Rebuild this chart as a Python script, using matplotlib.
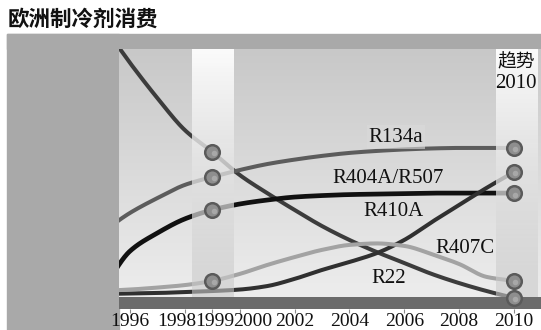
import numpy as np
import matplotlib
matplotlib.use("Agg")
import matplotlib.pyplot as plt
from matplotlib.patches import Rectangle
import matplotlib.transforms as mtransforms

# ---- data: consumption index (0 = floor of the chart, 100 = top) ----
years = [1995, 1996, 1997, 1998, 1999, 2000, 2001, 2002,
         2003, 2004, 2005, 2006, 2007, 2008, 2009, 2010]
r22 = [109.7, 94.4, 80.2, 67.3, 58.5, 49.2, 41.9, 35.1,
       28.6, 23.0, 18.1, 13.7, 9.3, 5.6, 2.4, -0.4]
r134a = [26.2, 33.9, 39.9, 45.2, 48.4, 51.2, 53.6, 55.4,
         56.9, 58.1, 58.9, 59.5, 59.9, 60.1, 60.1, 60.1]
r404a = [2.8, 18.5, 25.8, 31.5, 35.1, 37.5, 39.1, 40.3,
         40.9, 41.3, 41.5, 41.7, 41.9, 41.9, 41.9, 41.9]
r410a = [1.2, 1.4, 1.6, 2.0, 2.4, 3.0, 4.4, 7.3,
         10.9, 14.1, 17.7, 23.0, 30.2, 37.1, 44.0, 50.4]
r407c = [2.4, 3.0, 3.8, 4.8, 6.5, 9.3, 12.9, 16.1,
         19.0, 21.0, 21.6, 20.6, 17.3, 13.3, 8.1, 6.5]

series_names = ["R22", "R134a", "R404A/R507", "R410A", "R407C"]
series_values = [r22, r134a, r404a, r410a, r407c]
series_colors = ["#3c3c3c", "#5c5c5c", "#111111", "#303030", "#a3a3a3"]
series_widths = [2.9, 2.9, 3.4, 2.9, 2.9]

# years that get a marker on each series
marker_years = {
    "R22": [1999, 2010],
    "R134a": [1999, 2010],
    "R404A/R507": [1999, 2010],
    "R410A": [2010],
    "R407C": [1999, 2010],
}

# text label positions (year, index) for each series
label_pos = {
    "R134a": (2005.70, 64.5),
    "R404A/R507": (2005.41, 47.6),
    "R410A": (2005.62, 34.3),
    "R407C": (2008.21, 19.4),
    "R22": (2005.44, 7.3),
}

tick_years = [1996, 1998, 1999, 2000, 2002, 2004, 2006, 2008, 2010]
tick_labels = [str(y) for y in tick_years]
highlight_years = [1999, 2010]

title = "欧洲制冷剂消费"
trend_title = "趋势"
trend_year = "2010"


def pchip(x, y, xs):
    """Shape-preserving cubic through the points, evaluated at xs."""
    x = np.asarray(x, float)
    y = np.asarray(y, float)
    h = np.diff(x)
    d = np.diff(y) / h
    m = np.zeros_like(y)
    for k in range(1, len(x) - 1):
        if d[k - 1] * d[k] <= 0:
            m[k] = 0.0
        else:
            w1 = 2 * h[k] + h[k - 1]
            w2 = h[k] + 2 * h[k - 1]
            m[k] = (w1 + w2) / (w1 / d[k - 1] + w2 / d[k])
    m[0] = d[0]
    m[-1] = d[-1]
    idx = np.clip(np.searchsorted(x, xs) - 1, 0, len(x) - 2)
    t = (xs - x[idx]) / h[idx]
    h00 = 2 * t**3 - 3 * t**2 + 1
    h10 = t**3 - 2 * t**2 + t
    h01 = -2 * t**3 + 3 * t**2
    h11 = t**3 - t**2
    return (h00 * y[idx] + h10 * h[idx] * m[idx]
            + h01 * y[idx + 1] + h11 * h[idx] * m[idx + 1])


W, H = 541, 330
fig = plt.figure(figsize=(W / 100, H / 100), dpi=100)
fig.patch.set_facecolor("white")

# grey frame: top strip and left panel
frame = "#a9a9a9"
fig.patches.append(Rectangle((7 / W, 0), (119 - 7) / W, 1 - 34 / H,
                             transform=fig.transFigure, color=frame,
                             zorder=-5))
fig.patches.append(Rectangle((7 / W, 1 - 49 / H), (W - 7) / W, 15 / H,
                             transform=fig.transFigure, color=frame,
                             zorder=-5))

fig.text(8 / W, 1 - 19 / H, title, fontsize=15.5, fontweight="bold",
         family=["Noto Sans CJK SC", "DejaVu Sans"], va="center", ha="left",
         color="#111111")

ax = fig.add_axes([119 / W, 1 - 309 / H, (W - 119) / W, (309 - 49) / H])
ax.set_zorder(2)
x_lo, x_hi = 1995.6, 2010.984
y_lo, y_hi = -4.84, 100.0
ax.set_xlim(x_lo, x_hi)
ax.set_ylim(y_lo, y_hi)
for s in ax.spines.values():
    s.set_visible(False)
ax.set_facecolor("#e8e8e8")

# soft vertical gradient of the plotting field
g = np.linspace(0, 1, 256)[:, None]
shade = (200 + (237 - 200) * g) / 255.0
bg = np.dstack([shade, shade, shade])
ax.imshow(bg, extent=[x_lo, x_hi, 0, y_hi], origin="upper",
          aspect="auto", zorder=0, interpolation="bilinear")

# curves
xs = np.linspace(years[0], years[-1], 600)
for name, vals, col, lw in zip(series_names, series_values,
                               series_colors, series_widths):
    ax.plot(xs, pchip(years, vals, xs), color=col, lw=lw,
            solid_capstyle="round", zorder=2)

# translucent highlight columns over the curves
band_half = 0.75
band_shift = {1999: 0.0, 2010: 0.08}
for yr in highlight_years:
    c = yr + band_shift[yr]
    rows = np.linspace(0, 1, 256)
    rgb = (255 - 55 * rows) / 255.0
    alpha = 0.95 - 0.37 * rows
    img = np.zeros((256, 1, 4))
    img[:, 0, 0] = rgb
    img[:, 0, 1] = rgb
    img[:, 0, 2] = rgb
    img[:, 0, 3] = alpha
    ax.imshow(img, extent=[c - band_half, c + band_half, 0, y_hi],
              origin="upper", aspect="auto", zorder=3,
              interpolation="bilinear")

# dark floor strip
ax.axhspan(y_lo, 0, color="#6b6b6b", zorder=4, lw=0)

# markers
for name, vals in zip(series_names, series_values):
    for yr in marker_years[name]:
        v = vals[years.index(yr)]
        ax.plot([yr], [v], marker="o", ms=10.5, mfc="#8e8e8e",
                mec="#5a5a5a", mew=1.8, zorder=6, ls="none")
        ax.plot([yr + 0.05], [v - 0.6], marker="o", ms=4, mfc="#a8a8a8",
                mec="none", zorder=7, ls="none")

serif = ["Liberation Serif", "DejaVu Serif"]
for name in series_names:
    x, y = label_pos[name]
    kw = {}
    if name == "R134a":
        kw["bbox"] = dict(boxstyle="square,pad=0.1", fc="#dadada",
                          ec="none", alpha=0.6)
    ax.text(x, y, name, fontsize=15, family=serif, ha="center",
            va="center", color="#111111", zorder=8, **kw)

ax.text(2010.07, 94.8, trend_title, fontsize=13.5,
        family=["Noto Sans CJK SC", "DejaVu Sans"], ha="center",
        va="center", color="#111111", zorder=8)
ax.text(2010.07, 86.0, trend_year, fontsize=15, family=serif,
        ha="center", va="center", color="#111111", zorder=8)

ax.set_yticks([])
ax.set_xticks(tick_years)
ax.set_xticklabels(tick_labels, family=serif, fontsize=14, color="#111111")
ax.tick_params(axis="x", length=3, color="#8a8a8a", pad=0)
# crowded labels around 1999 are nudged sideways
shifts = {1998: -8, 1999: 3, 2000: 13}
for yr, lab in zip(tick_years, ax.get_xticklabels()):
    dx = shifts.get(yr, 0)
    if dx:
        lab.set_transform(lab.get_transform() + mtransforms.ScaledTranslation(
            dx / 100, 0, fig.dpi_scale_trans))

fig.savefig("out.png", dpi=100)
